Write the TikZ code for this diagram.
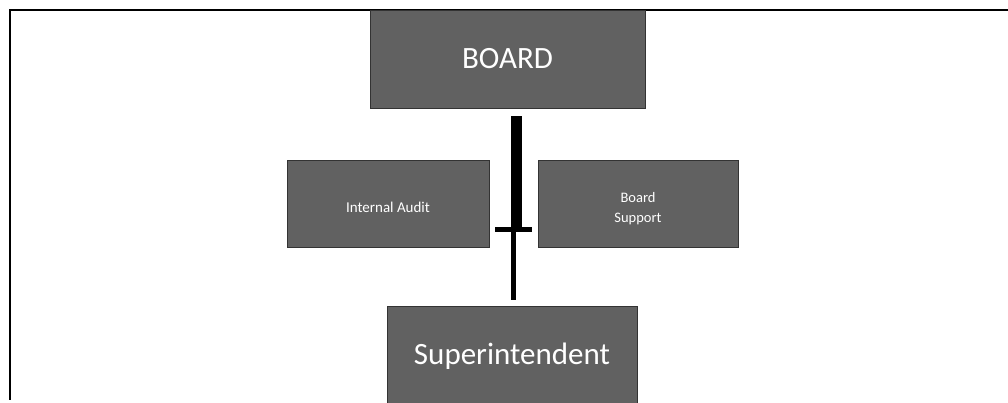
\documentclass[tikz,border=0pt]{standalone}
\usepackage{fontspec}
\setmainfont{Carlito}
\usepackage{tikz}

\newcommand{\lowertext}[1]{\smash{\raisebox{-8.5pt}{#1}}}

\begin{document}
\begin{tikzpicture}[x=1pt, y=-1pt,
  box/.style={draw=black!80, line width=0.8pt, fill=black!62, text=white, inner sep=0pt, align=center}]
\useasboundingbox (0,0) rectangle (1008,402);
% frame
\draw[line width=1.6pt] (1008,10) -- (10,10) -- (10,400);

\node (board) [box, minimum width=275pt, minimum height=98pt, font=\fontsize{31}{36}\selectfont] at (507.5,59) {BOARD};
\node (audit) [box, minimum width=202pt, minimum height=87pt, font=\fontsize{15}{18}\selectfont] at (388,203.5) {\lowertext{Internal Audit}};
\node (support) [box, minimum width=200pt, minimum height=87pt, font=\fontsize{14.5}{20}\selectfont] at (638,203.5) {\lowertext{\begin{tabular}{@{}c@{}}Board\\Support\end{tabular}}};
\node (supt) [box, minimum width=250pt, minimum height=100pt, anchor=north, font=\fontsize{31}{36}\selectfont] at (512,306) {Superintendent};

\coordinate (top) at (516.5,116);
\coordinate (mid) at (516.5,228);
\coordinate (bot) at (513.5,300);
\draw[line width=11pt] (top) -- (mid);
\draw[line width=5pt] (mid -| bot) -- (bot);
\draw[line width=5pt] (495,229) -- (532,229);
\end{tikzpicture}
\end{document}
